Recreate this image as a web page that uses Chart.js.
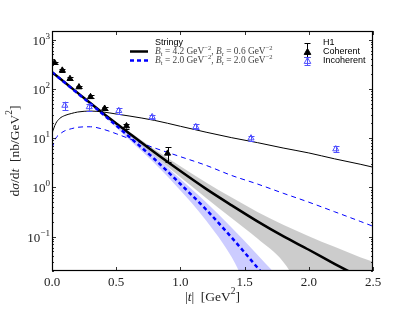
<!DOCTYPE html>
<html>
<head>
<meta charset="utf-8">
<script src="https://cdn.jsdelivr.net/npm/chart.js@4.4.1/dist/chart.umd.min.js"></script>
<style>
html, body { margin: 0; padding: 0; background: #fff; }
#wrap { width: 415px; height: 312px; position: relative; }
</style>
</head>
<body>
<div id="wrap"><canvas id="c" width="415" height="312"></canvas></div>
<script>
// |t| grid of the coherent model curves
const tCohA = [0, 0.2, 0.4, 0.6, 0.8, 1.0, 1.2, 1.4, 1.6, 1.8, 2.0, 2.2, 2.4, 2.5];
// Bt = 4.2, Br = 0.6 (black, grey band)
const cohA   = [219, 83, 31.6, 12.6, 5.1, 2.14, 0.93, 0.43, 0.204, 0.102, 0.054, 0.028, 0.0148, 0.0107];
const cohAHi = [221, 84, 32.6, 13.6, 5.9, 2.67, 1.26, 0.62, 0.316, 0.174, 0.102, 0.062, 0.038, 0.031];
const cohALo = [217, 82, 30.7, 11.6, 4.35, 1.6, 0.61, 0.235, 0.091, 0.031, 0.005, 0.002, 0.001, 0.001];

// Bt = 2.0, Br = 2.0 (blue, blue band)
const tCohB = [0, 0.2, 0.4, 0.6, 0.8, 1.0, 1.2, 1.4, 1.6, 1.8];
const cohB   = [219, 81, 30.2, 10.7, 3.72, 1.17, 0.355, 0.095, 0.0234, 0.0056];
const cohBHi = [223, 83, 32, 12.0, 4.39, 1.47, 0.50, 0.152, 0.043, 0.0118];
const cohBLo = [215, 79, 28.4, 9.4, 3.05, 0.866, 0.213, 0.038, 0.0035, 0.001];

// incoherent model curves
const tInc = [0, 0.03, 0.06, 0.1, 0.15, 0.2, 0.3, 0.4, 0.5, 0.6, 0.8, 1.0, 1.2, 1.4, 1.6, 1.8, 2.0, 2.2, 2.4, 2.5];
const incA = [12.6, 20, 25.1, 28.8, 31.6, 33.9, 35.5, 33.9, 30.9, 28.2, 22.9, 17.4, 13.2, 10.2, 8.1, 6.3, 5.0, 3.8, 2.95, 2.57];
const incB = [6.3, 10, 12, 14.1, 15.5, 16.6, 17.0, 15.1, 12.3, 9.8, 6.3, 4.2, 2.8, 1.74, 1.17, 0.76, 0.50, 0.32, 0.204, 0.162];

// H1 data
const h1CohT   = [0.02, 0.08, 0.14, 0.21, 0.30, 0.41, 0.58, 0.90];
const h1CohVal = [340, 238, 161, 109, 69, 40, 17.6, 4.9];
const h1CohErr = [20, 14, 10, 7, 5, 3, 2, 1.6];
const h1IncT   = [0.10, 0.29, 0.52, 0.78, 1.12, 1.55, 2.21];
const h1IncVal = [46, 43, 36, 27, 17, 10, 6.0];
const h1IncErr = [9, 7, 5, 3, 2, 1.2, 0.8];

// axes
const xTicks = [0, 0.5, 1.0, 1.5, 2.0, 2.5];
const yTicks = [0.1, 1, 10, 100, 1000];
const yTickExp = ['\u22121', '0', '1', '2', '3'];

const BLUE = '#0000ff';
const OPEN_BLUE = '#5050ff';
const SERIF = '"Liberation Serif", "DejaVu Serif", serif';
const SANS = '"Liberation Sans", Arial, sans-serif';

const pts = (xs, ys) => xs.map((x, i) => ({ x: x, y: ys[i] }));

// texte avec indices / exposants
function richText(ctx, x, y, parts, size, color, align) {
    const fontFor = k => {
        const small = (k === 'sub' || k === 'sup');
        const s = small ? size * 0.7 : size;
        return (k === 'i' ? 'italic ' : '') + s + 'px ' + SERIF;
    };
    let w = 0;
    parts.forEach(p => { ctx.font = fontFor(p[1]); w += ctx.measureText(p[0]).width; });
    let cx = align === 'center' ? x - w / 2 : align === 'right' ? x - w : x;
    ctx.fillStyle = color;
    ctx.textBaseline = 'middle';
    ctx.textAlign = 'left';
    parts.forEach(p => {
        ctx.font = fontFor(p[1]);
        const dy = p[1] === 'sub' ? size * 0.28 : p[1] === 'sup' ? -size * 0.38 : 0;
        ctx.fillText(p[0], cx, y + dy);
        cx += ctx.measureText(p[0]).width;
    });
}

function triangle(ctx, x, y, r, fill, stroke) {
    ctx.beginPath();
    ctx.moveTo(x, y - r);
    ctx.lineTo(x + r * 0.95, y + r * 0.7);
    ctx.lineTo(x - r * 0.95, y + r * 0.7);
    ctx.closePath();
    if (fill) { ctx.fillStyle = fill; ctx.fill(); }
    if (stroke) { ctx.strokeStyle = stroke; ctx.lineWidth = 1; ctx.stroke(); }
}

function errBar(ctx, x, yTop, yBot, color) {
    ctx.strokeStyle = color;
    ctx.lineWidth = 1;
    ctx.beginPath();
    ctx.moveTo(x + 0.5, yTop); ctx.lineTo(x + 0.5, yBot);
    ctx.moveTo(x - 2.5, Math.round(yTop) + 0.5); ctx.lineTo(x + 3.5, Math.round(yTop) + 0.5);
    ctx.moveTo(x - 2.5, Math.round(yBot) + 0.5); ctx.lineTo(x + 3.5, Math.round(yBot) + 0.5);
    ctx.stroke();
}

const decor = {
    id: 'decor',
    afterDatasetsDraw(chart) {
        const ctx = chart.ctx, xs = chart.scales.x, ys = chart.scales.y, a = chart.chartArea;
        ctx.save();
        ctx.beginPath();
        ctx.rect(a.left, a.top, a.right - a.left, a.bottom - a.top);
        ctx.clip();
        h1IncT.forEach((t, i) => {
            const px = Math.round(xs.getPixelForValue(t));
            errBar(ctx, px, ys.getPixelForValue(h1IncVal[i] + h1IncErr[i]),
                ys.getPixelForValue(h1IncVal[i] - h1IncErr[i]), OPEN_BLUE);
        });
        h1CohT.forEach((t, i) => {
            const px = Math.round(xs.getPixelForValue(t));
            errBar(ctx, px, ys.getPixelForValue(h1CohVal[i] + h1CohErr[i]),
                ys.getPixelForValue(h1CohVal[i] - h1CohErr[i]), '#000');
        });
        ctx.restore();
    },
    afterDraw(chart) {
        const ctx = chart.ctx, xs = chart.scales.x, ys = chart.scales.y, a = chart.chartArea;
        ctx.save();
        // cadre
        ctx.strokeStyle = '#000';
        ctx.lineWidth = 1.2;
        ctx.strokeRect(a.left + 0.5, a.top + 0.5, a.right - a.left - 1, a.bottom - a.top - 1);

        // graduations vers l'intérieur
        ctx.lineWidth = 0.8;
        ctx.beginPath();
        xTicks.forEach(v => {
            const px = Math.round(xs.getPixelForValue(v)) + 0.5;
            ctx.moveTo(px, a.bottom); ctx.lineTo(px, a.bottom - 4);
            ctx.moveTo(px, a.top); ctx.lineTo(px, a.top + 4);
        });
        for (let e = -2; e <= 3; e++) {
            for (let m = 1; m <= 9; m++) {
                const v = m * Math.pow(10, e);
                if (v < ys.min || v > ys.max) continue;
                const py = Math.round(ys.getPixelForValue(v)) + 0.5;
                const len = m === 1 ? 4 : 2;
                ctx.moveTo(a.left, py); ctx.lineTo(a.left + len, py);
                ctx.moveTo(a.right, py); ctx.lineTo(a.right - len, py);
            }
        }
        ctx.stroke();

        // étiquettes de l'axe y
        yTicks.forEach((v, i) => {
            const py = ys.getPixelForValue(v);
            richText(ctx, a.left - 2, py + 1.5, [['10', ''], [yTickExp[i], 'sup']], 13, '#222', 'right');
        });

        // titres des axes
        richText(ctx, (a.left + a.right) / 2, 297,
            [['|', ''], ['t', 'i'], ['|  [GeV', ''], ['2', 'sup'], [']', '']], 13.5, '#222', 'center');
        ctx.save();
        ctx.translate(15, 151);
        ctx.rotate(-Math.PI / 2);
        richText(ctx, 0, 0,
            [['d', ''], ['\u03c3', 'i'], ['/d', ''], ['t', 'i'], ['  [nb/GeV', ''], ['2', 'sup'], [']', '']], 13.5, '#222', 'center');
        ctx.restore();

        // légende Stringy
        ctx.fillStyle = '#000';
        ctx.font = '9px ' + SANS;
        ctx.textBaseline = 'middle';
        ctx.textAlign = 'left';
        ctx.fillText('Stringy', 155, 43);
        ctx.lineWidth = 2.5;
        ctx.strokeStyle = '#000';
        ctx.beginPath(); ctx.moveTo(130, 51.5); ctx.lineTo(148, 51.5); ctx.stroke();
        ctx.strokeStyle = BLUE;
        ctx.setLineDash([4, 3]);
        ctx.beginPath(); ctx.moveTo(130, 60.5); ctx.lineTo(148, 60.5); ctx.stroke();
        ctx.setLineDash([]);
        richText(ctx, 155, 51.5, [['B', 'i'], ['t', 'sub'], [' = 4.2 GeV', ''], ['\u22122', 'sup'], [', ', ''],
            ['B', 'i'], ['r', 'sub'], [' = 0.6 GeV', ''], ['\u22122', 'sup']], 9.4, '#444', 'left');
        richText(ctx, 155, 60.5, [['B', 'i'], ['t', 'sub'], [' = 2.0 GeV', ''], ['\u22122', 'sup'], [', ', ''],
            ['B', 'i'], ['r', 'sub'], [' = 2.0 GeV', ''], ['\u22122', 'sup']], 9.4, '#444', 'left');

        // légende H1
        ctx.fillStyle = '#000';
        ctx.font = '9px ' + SANS;
        ctx.textBaseline = 'middle';
        ctx.fillText('H1', 323, 43);
        ctx.fillText('Coherent', 323, 52);
        ctx.fillText('Incoherent', 323, 61);
        errBar(ctx, 307, 43, 57, '#000');
        triangle(ctx, 307.5, 52, 3.5, '#000', '#000');
        errBar(ctx, 307, 57, 65, OPEN_BLUE);
        triangle(ctx, 307.5, 61, 3.5, null, OPEN_BLUE);
        ctx.restore();
    }
};

const lineBase = { pointRadius: 0, fill: false, cubicInterpolationMode: 'monotone', borderCapStyle: 'butt' };

new Chart(document.getElementById('c'), {
    type: 'line',
    data: {
        datasets: [
            { label: 'H1 coherent', data: pts(h1CohT, h1CohVal), showLine: false, order: 0,
              pointStyle: 'triangle', pointRadius: 3.5, backgroundColor: '#000', borderColor: '#000', borderWidth: 1 },
            { label: 'H1 incoherent', data: pts(h1IncT, h1IncVal), showLine: false, order: 1,
              pointStyle: 'triangle', pointRadius: 3.5, backgroundColor: 'rgba(0,0,0,0)', borderColor: OPEN_BLUE, borderWidth: 1 },
            Object.assign({ label: 'coh B', data: pts(tCohB, cohB), borderColor: BLUE, borderWidth: 2.5, borderDash: [4, 3], order: 2 }, lineBase),
            Object.assign({ label: 'coh A', data: pts(tCohA, cohA), borderColor: '#000', borderWidth: 2.5, order: 3 }, lineBase),
            Object.assign({ label: 'inc B', data: pts(tInc, incB), borderColor: BLUE, borderWidth: 1, borderDash: [5, 4], order: 4 }, lineBase),
            Object.assign({ label: 'inc A', data: pts(tInc, incA), borderColor: '#000', borderWidth: 1, order: 5 }, lineBase),
            Object.assign({ label: 'coh B hi', data: pts(tCohB, cohBHi), borderWidth: 0, borderColor: 'rgba(0,0,0,0)', order: 6 }, lineBase,
                { fill: '+1', backgroundColor: 'rgba(0,0,255,0.2)' }),
            Object.assign({ label: 'coh B lo', data: pts(tCohB, cohBLo), borderWidth: 0, borderColor: 'rgba(0,0,0,0)', order: 7 }, lineBase),
            Object.assign({ label: 'coh A hi', data: pts(tCohA, cohAHi), borderWidth: 0, borderColor: 'rgba(0,0,0,0)', order: 8 }, lineBase,
                { fill: '+1', backgroundColor: 'rgba(128,128,128,0.4)' }),
            Object.assign({ label: 'coh A lo', data: pts(tCohA, cohALo), borderWidth: 0, borderColor: 'rgba(0,0,0,0)', order: 9 }, lineBase)
        ]
    },
    options: {
        responsive: false,
        animation: false,
        events: [],
        layout: { padding: { top: 31, right: 42, left: 0, bottom: 0 } },
        plugins: { legend: { display: false }, tooltip: { enabled: false } },
        scales: {
            x: {
                type: 'linear', min: 0, max: 2.5,
                afterBuildTicks: s => { s.ticks = xTicks.map(v => ({ value: v })); },
                afterFit: s => { s.height = 41; },
                grid: { display: false, drawTicks: false },
                border: { display: false },
                ticks: { color: '#222', padding: 4, maxRotation: 0, autoSkip: false,
                         font: { family: SERIF, size: 13 }, callback: v => v.toFixed(1) }
            },
            y: {
                type: 'logarithmic', min: 0.02, max: 1500,
                afterBuildTicks: s => { s.ticks = yTicks.map(v => ({ value: v })); },
                afterFit: s => { s.width = 52; },
                grid: { display: false, drawTicks: false },
                border: { display: false },
                ticks: { display: false }
            }
        }
    },
    plugins: [decor]
});
</script>
</body>
</html>
